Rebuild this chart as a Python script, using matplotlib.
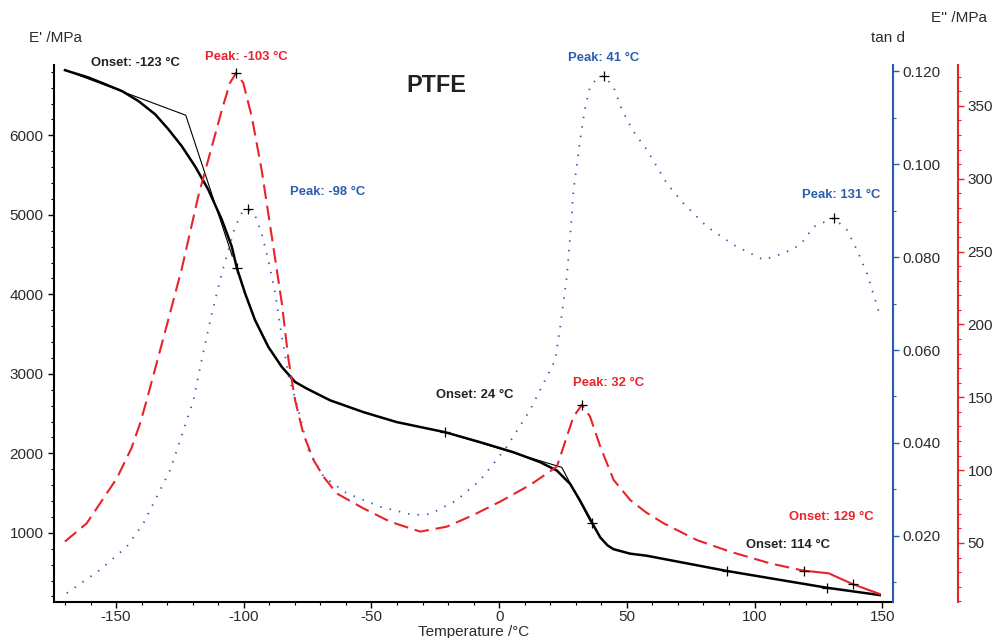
import matplotlib
matplotlib.use("Agg")
import matplotlib.pyplot as plt
from matplotlib.ticker import MultipleLocator, FixedLocator, FormatStrFormatter

plt.rcParams['font.family'] = ['Liberation Sans', 'DejaVu Sans']
plt.rcParams['axes.unicode_minus'] = False

# ---- data ----
# Storage modulus E' (MPa)
t_e1 = [-170, -160.9, -154.3, -147.8, -141.3, -134.7, -129.5, -124.3, -119.1, -113.9,
        -108.6, -104.7, -102.7, -99.5, -95.6, -90.4, -85.1, -79.9, -75.3, -66.2, -53.2,
        -40.1, -21.2, -7.4, 5.6, 16.1, 22.6, 27.8, 31.7, 36.3, 39.6, 42.5, 44.8, 51.3,
        57.8, 89.2, 128.4, 149]
e1 = [6820, 6729, 6644, 6559, 6433, 6265, 6076, 5865, 5612, 5318,
      4939, 4602, 4330, 4014, 3677, 3340, 3087, 2898, 2814, 2667, 2519,
      2393, 2266, 2140, 2014, 1888, 1783, 1615, 1404, 1130, 941, 840, 794, 738,
      712, 520, 309, 217]

# Loss modulus E'' (MPa)
t_e2 = [-170, -161.5, -149.7, -144, -140.6, -138, -130.8, -124.3, -117.8, -112.5, -108.6,
        -105.4, -103, -100.2, -96.9, -93, -89, -85.1, -82.5, -79.9, -76.7, -72.7, -68.8,
        -63.6, -53.2, -42.7, -30.9, -20.5, -10.1, 0.4, 12.1, 22.6, 26.5, 29.1, 32.4, 35.6,
        39.6, 44.8, 51.3, 57.5, 64.4, 77.4, 90.5, 106.1, 119.2]
e2 = [51, 63.5, 94.4, 115, 132, 148, 195, 238, 288, 322, 347,
      365.7, 372.6, 365.7, 342.8, 306, 260, 214.6, 176, 148, 125, 107, 95.5,
      84, 73.8, 64.6, 57.8, 61.2, 69.2, 78.4, 89.8, 102.4, 123, 136.7, 144.8, 136.7,
      116.1, 93.3, 79.5, 71, 63.5, 52, 44, 36, 31]
# E'' tail (onset construction region)
t_e2_tail = [119.2, 129, 138.4, 149]
e2_tail = [31, 29.2, 21.8, 15]

# tan delta
t_tan = [-169.3, -156.3, -145.8, -139.3, -134, -128.8, -124.9, -119.7, -116.5, -112.5,
         -108.6, -106, -103.4, -100.8, -98.2, -95.6, -93, -90.4, -87.7, -85.1, -82.5,
         -78.6, -74.7, -68.8, -59.7, -46.6, -33.6, -27, -16.6, -7.4, 3, 12.1, 18.7, 21.9,
         23.9, 26.5, 27.8, 29.1, 30.5, 31.7, 33.7, 35.6, 38.3, 40.9, 44.8, 48.1, 52.6,
         57.9, 65.7, 72.2, 81.4, 91.8, 103.5, 111.3, 117.9, 123.1, 131, 136.2, 140.1,
         144, 148.8]
tan_d = [0.0077, 0.0127, 0.0177, 0.0227, 0.0285, 0.0342, 0.0406, 0.0492, 0.0578, 0.0679,
         0.0765, 0.0815, 0.0865, 0.0894, 0.0903, 0.089, 0.0851, 0.0794, 0.0722, 0.0629, 0.0545,
         0.0471, 0.0385, 0.0328, 0.0292, 0.0263, 0.0245, 0.0247, 0.0277, 0.032, 0.0392,
         0.0471, 0.0543, 0.0578,
         0.065, 0.0758, 0.0844, 0.0944, 0.1001, 0.1052, 0.1123, 0.1166, 0.1184, 0.119, 0.1166,
         0.1116, 0.107, 0.103, 0.0958, 0.0915, 0.0865, 0.0826, 0.0794, 0.0808, 0.0826, 0.0865,
         0.0884, 0.0858, 0.0815, 0.0765, 0.068]

# Onset tangent constructions on E'
onset1_t = [-170, -122.7, -104.5]
onset1_e = [6820, 6253, 4480]
onset2_t = [-21.2, 24.5, 35.6]
onset2_e = [2266, 1824, 1152]

# evaluation markers (+)
mk_e1_t = [-102.7, -21.2, 36.3, 89.2, 128.4]
mk_e1 = [4330, 2266, 1130, 520, 309]
mk_e2_t = [-103, 32.4, 119.2, 138.4]
mk_e2 = [372.6, 144.8, 31, 21.8]
mk_tan_t = [-98.2, 40.9, 131]
mk_tan = [0.0903, 0.119, 0.0884]

RED = '#e8232c'
BLUE = '#2a5db0'
TXT = '#2b2b2b'

fig = plt.figure(figsize=(9.94, 6.38), dpi=100)
ax = fig.add_axes([54/994, 1-602/638, (893-54)/994, (602-65)/638])
ax2 = ax.twinx()
ax3 = ax.twinx()

# E'
ax.plot(t_e1, e1, color='black', lw=1.8, zorder=5, solid_joinstyle='round')
ax.plot(onset1_t, onset1_e, color='black', lw=0.8, zorder=5)
ax.plot(onset2_t, onset2_e, color='black', lw=0.8, zorder=5)
ax.plot(mk_e1_t, mk_e1, '+', color='black', ms=7, mew=0.9, zorder=6)

# E''
ax3.plot(t_e2, e2, color=RED, lw=1.5, dashes=(7, 3.3))
ax3.plot(t_e2_tail, e2_tail, color=RED, lw=1.5)
ax3.plot(mk_e2_t, mk_e2, '+', color='black', ms=7, mew=0.9, zorder=6)

# tan d
ax2.plot(t_tan, tan_d, color=BLUE, lw=1.3, dashes=(0.8, 4.5))
ax2.plot(mk_tan_t, mk_tan, '+', color='black', ms=7, mew=0.9, zorder=6)

# limits
ax.set_xlim(-174.3, 154.2)
ax.set_ylim(130, 6885)
ax2.set_ylim(0.0058, 0.1213)
ax3.set_ylim(9.5, 378)

# spines
for s in ['top', 'right']:
    ax.spines[s].set_visible(False)
for a in (ax2, ax3):
    for s in ['top', 'left', 'bottom']:
        a.spines[s].set_visible(False)
ax2.spines['right'].set_color(BLUE)
ax2.spines['right'].set_linewidth(1.5)
ax3.spines['right'].set_color(RED)
ax3.spines['right'].set_linewidth(1.5)
ax3.spines['right'].set_position(('axes', (958-54)/(893-54)))
ax.spines['left'].set_linewidth(1.5)
ax.spines['bottom'].set_linewidth(1.5)

# ticks
ax.xaxis.set_major_locator(MultipleLocator(50))
ax.xaxis.set_minor_locator(MultipleLocator(10))
ax.yaxis.set_major_locator(FixedLocator([1000, 2000, 3000, 4000, 5000, 6000]))
ax.yaxis.set_minor_locator(MultipleLocator(200))
ax2.yaxis.set_major_locator(FixedLocator([0.02, 0.04, 0.06, 0.08, 0.10, 0.12]))
ax2.yaxis.set_minor_locator(MultipleLocator(0.01))
ax2.yaxis.set_major_formatter(FormatStrFormatter('%.3f'))
ax3.yaxis.set_major_locator(FixedLocator([50, 100, 150, 200, 250, 300, 350]))
ax3.yaxis.set_minor_locator(MultipleLocator(10))

ax.tick_params(axis='both', which='major', labelsize=11, length=4, width=1, colors='black', labelcolor=TXT)
ax.tick_params(axis='x', which='major', pad=1.5)
ax.tick_params(axis='both', which='minor', length=2.5, width=0.8, colors='black')
ax2.tick_params(axis='y', which='major', labelsize=11, length=4, width=1, colors=BLUE, labelcolor=TXT, pad=3)
ax2.tick_params(axis='y', which='minor', length=2.5, width=0.8, colors=BLUE)
ax3.tick_params(axis='y', which='major', labelsize=11, length=4, width=1, colors=RED, labelcolor=TXT, pad=3)
ax3.tick_params(axis='y', which='minor', length=2.5, width=0.8, colors=RED)

# axis labels
fig.text(29/994, 1-38/638, "E' /MPa", fontsize=11, color=TXT, ha='left', va='center')
fig.text(905/994, 1-38/638, "tan d", fontsize=11, color=TXT, ha='right', va='center')
fig.text(987/994, 1-18/638, "E'' /MPa", fontsize=11, color=TXT, ha='right', va='center')
fig.text(474/994, 1-632/638, "Temperature /°C", fontsize=11, color=TXT, ha='center', va='center')

# annotations
def ann(px, py, s, color, size=9.4):
    fig.text(px/994, 1-py/638, s, fontsize=size, color=color, fontweight='bold', ha='center', va='center')

ann(135, 63, "Onset: -123 °C", '#222222')
ann(246, 57, "Peak: -103 °C", RED)
ann(328, 192, "Peak: -98 °C", BLUE)
ann(436, 86, "PTFE", '#222222', size=16.8)
ann(604, 58, "Peak: 41 °C", BLUE)
ann(841, 195, "Peak: 131 °C", BLUE)
ann(475, 395, "Onset: 24 °C", '#222222')
ann(609, 383, "Peak: 32 °C", RED)
ann(831, 517, "Onset: 129 °C", RED)
ann(788, 545, "Onset: 114 °C", '#222222')

fig.savefig('out.png', dpi=100)
